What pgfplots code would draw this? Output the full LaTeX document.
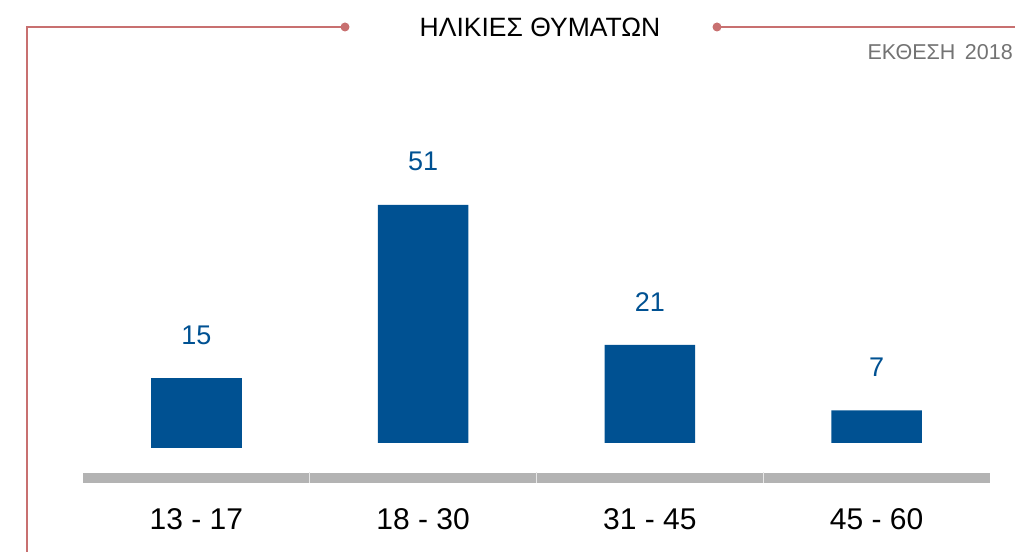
\documentclass[border=0pt]{standalone}
\usepackage{pgfplots}
\pgfplotsset{compat=1.18}
\usepackage{fontspec}
\setmainfont{Liberation Sans}
\definecolor{barblue}{RGB}{0,81,146}
\definecolor{redline}{RGB}{200,112,112}
\definecolor{basegray}{RGB}{179,179,179}
\definecolor{subgray}{RGB}{115,115,115}
\begin{document}
\begin{tikzpicture}[x=1bp,y=1bp]
\useasboundingbox (0,0) rectangle (1015,552);
\draw[redline, line width=2.5bp] (27,0) -- (27,525) -- (345,525);
\fill[redline] (345,525) circle (4.5bp);
\draw[redline, line width=2.5bp] (717,525) -- (1015,525);
\fill[redline] (717,525) circle (4.5bp);
\node[font=\fontsize{26.5bp}{30bp}\selectfont] at (540,525) {ΗΛΙΚΙΕΣ ΘΥΜΑΤΩΝ};
\node[anchor=east, inner sep=0pt, text=subgray, font=\fontsize{21.5bp}{25bp}\selectfont] at (1013,500) {ΕΚΘΕΣΗ\, 2018};
\begin{axis}[
  at={(83bp,62.3bp)}, anchor=south west,
  scale only axis, width=907bp, height=326.9bp,
  xmin=-0.5, xmax=3.5, ymin=-10, ymax=60,
  axis line style={draw=none},
  major tick length=0pt,
  ytick=\empty,
  xtick={0,1,2,3},
  xticklabels={13 - 17, 18 - 30, 31 - 45, 45 - 60},
  xticklabel style={anchor=center, yshift=-29bp, font=\fontsize{30bp}{34bp}\selectfont},
  ybar, bar shift=0pt, bar width=0.4,
  nodes near coords,
  /pgf/number format/assume math mode=true,
  every node near coord/.append style={anchor=center, yshift=43bp, text=barblue, font=\fontsize{27bp}{31bp}\selectfont},
  clip=false,
]
\draw[basegray, line width=10bp] (axis cs:-0.5,-7.4) -- (axis cs:3.5,-7.4);
\draw[white!70!basegray, line width=1bp] (axis cs:0.5,-6.3) -- (axis cs:0.5,-8.5);
\draw[white!70!basegray, line width=1bp] (axis cs:1.5,-6.3) -- (axis cs:1.5,-8.5);
\draw[white!70!basegray, line width=1bp] (axis cs:2.5,-6.3) -- (axis cs:2.5,-8.5);
\addplot[fill=barblue, draw=none, yshift=-5bp] coordinates {(0,15)};
\addplot[fill=barblue, draw=none] coordinates {(1,51) (2,21) (3,7)};
\end{axis}
\end{tikzpicture}
\end{document}
